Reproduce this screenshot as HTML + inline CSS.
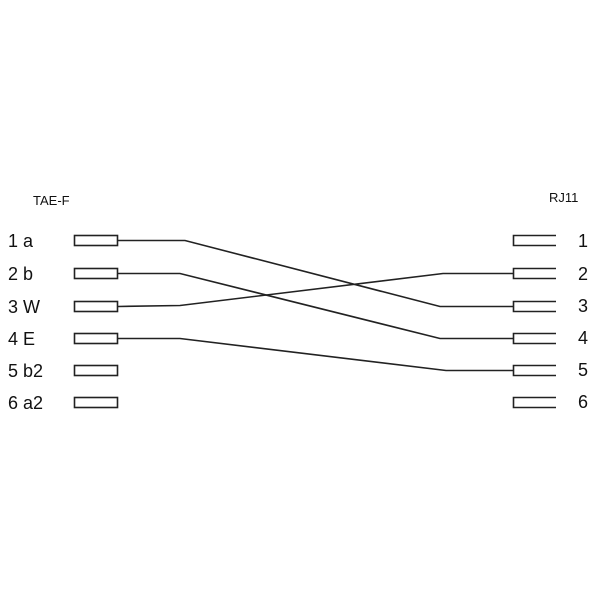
<!DOCTYPE html>
<html><head><style>
html,body{margin:0;padding:0;background:#fff;}
svg{display:block}
text{font-family:"Liberation Sans",sans-serif;fill:#111}
</style></head><body>
<svg width="600" height="600" viewBox="0 0 600 600">
<rect width="600" height="600" fill="#fff"/>
<g stroke="#222" stroke-width="1.6" fill="none">
<rect x="74.5" y="235.5" width="43" height="10"/>
<rect x="74.5" y="268.5" width="43" height="10"/>
<rect x="74.5" y="301.5" width="43" height="10"/>
<rect x="74.5" y="333.5" width="43" height="10"/>
<rect x="74.5" y="365.5" width="43" height="10"/>
<rect x="74.5" y="397.5" width="43" height="10"/>
<path d="M556 235.5H513.5V245.5H556"/>
<path d="M556 268.5H513.5V278.5H556"/>
<path d="M556 301.5H513.5V311.5H556"/>
<path d="M556 333.5H513.5V343.5H556"/>
<path d="M556 365.5H513.5V375.5H556"/>
<path d="M556 397.5H513.5V407.5H556"/>
<polyline points="118,240.5 185,240.5 440,306.5 513,306.5"/>
<polyline points="118,273.5 180,273.5 440,338.5 513,338.5"/>
<polyline points="118,306.5 180,305.5 443,273.5 513,273.5"/>
<polyline points="118,338.5 180,338.5 446,370.5 513,370.5"/>
</g>
<g font-size="18">
<text x="8" y="247">1 a</text>
<text x="8" y="280">2 b</text>
<text x="8" y="313">3 W</text>
<text x="8" y="345">4 E</text>
<text x="8" y="377">5 b2</text>
<text x="8" y="409">6 a2</text>
<text x="578" y="247">1</text>
<text x="578" y="280">2</text>
<text x="578" y="312">3</text>
<text x="578" y="344">4</text>
<text x="578" y="376">5</text>
<text x="578" y="408">6</text>
</g>
<text x="33" y="205" font-size="13">TAE-F</text>
<text x="549" y="202" font-size="13">RJ11</text>
</svg>
</body></html>
